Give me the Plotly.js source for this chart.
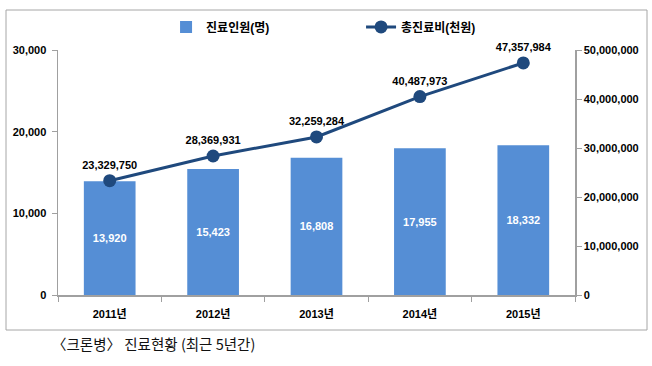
<!DOCTYPE html>
<html>
<head>
<meta charset="utf-8">
<script src="https://cdn.plot.ly/plotly-3.0.1.min.js"></script>
<style>
html,body{margin:0;padding:0;background:#fff;}
#chart{width:652px;height:366px;}
</style>
</head>
<body>
<div id="chart"></div>
<script>
const years = ['2011년', '2012년', '2013년', '2014년', '2015년'];
const patients = [13920, 15423, 16808, 17955, 18332];
const totalCost = [23329750, 28369931, 32259284, 40487973, 47357984];
const barName = '진료인원(명)';
const lineName = '총진료비(천원)';
const caption = '〈크론병〉 진료현황 (최근 5년간)';

const FONT = 'Liberation Sans, Arial, Noto Sans CJK KR, sans-serif';
const fmt = v => v.toLocaleString('en-US');

const traces = [
  {
    type: 'bar',
    name: barName,
    x: years,
    y: patients,
    width: 0.5,
    marker: {color: '#558ED5'},
    text: patients.map(fmt),
    textposition: 'inside',
    insidetextanchor: 'middle',
    textangle: 0,
    textfont: {family: FONT, size: 11, color: '#ffffff', weight: 'bold'},
    hoverinfo: 'x+y',
    yaxis: 'y'
  },
  {
    type: 'scatter',
    mode: 'lines+markers+text',
    name: lineName,
    x: years,
    y: totalCost,
    yaxis: 'y2',
    line: {color: '#1F497D', width: 3},
    marker: {color: '#1F497D', size: 13},
    text: totalCost.map(fmt),
    textposition: 'top center',
    textfont: {family: FONT, size: 11, color: '#000000', weight: 'bold'},
    cliponaxis: false
  }
];

const layout = {
  width: 652,
  height: 366,
  margin: {l: 58, r: 77, t: 50, b: 71},
  paper_bgcolor: '#ffffff',
  plot_bgcolor: '#ffffff',
  font: {family: FONT, size: 11, color: '#000'},
  showlegend: true,
  legend: {
    orientation: 'h',
    x: 0.209, xanchor: 'left',
    y: 1.094, yanchor: 'middle',
    entrywidth: 150,
    entrywidthmode: 'pixels',
    font: {family: FONT, size: 12, color: '#000', weight: 'bold'},
    bgcolor: 'rgba(0,0,0,0)'
  },
  xaxis: {
    type: 'category',
    showgrid: false,
    showline: true,
    linecolor: '#A0A0A0',
    linewidth: 1.5,
    ticks: 'outside',
    tickson: 'boundaries',
    ticklen: 5,
    tickcolor: '#A0A0A0',
    ticklabelstandoff: 8,
    tickfont: {family: FONT, size: 11, color: '#000', weight: 'bold'},
    zeroline: false
  },
  yaxis: {
    range: [0, 30000],
    tickvals: [0, 10000, 20000, 30000],
    tickformat: ',d',
    showgrid: false,
    zeroline: false,
    showline: true,
    linecolor: '#A0A0A0',
    linewidth: 1.5,
    ticks: 'outside',
    ticklen: 5,
    tickcolor: '#A0A0A0',
    ticklabelstandoff: 3,
    tickfont: {family: FONT, size: 11, color: '#000', weight: 'bold'}
  },
  yaxis2: {
    overlaying: 'y',
    side: 'right',
    range: [0, 50000000],
    tickvals: [0, 10000000, 20000000, 30000000, 40000000, 50000000],
    tickformat: ',d',
    showgrid: false,
    zeroline: false,
    showline: true,
    linecolor: '#A0A0A0',
    linewidth: 1.5,
    ticks: 'outside',
    ticklen: 5,
    tickcolor: '#A0A0A0',
    tickfont: {family: FONT, size: 11, color: '#000', weight: 'bold'}
  },
  shapes: [
    {
      type: 'rect', xref: 'paper', yref: 'paper',
      x0: (6 - 58) / 517, x1: (647 - 58) / 517,
      y0: (295 - 330) / 245, y1: (295 - 10) / 245,
      line: {color: '#A6A6A6', width: 1},
      fillcolor: 'rgba(0,0,0,0)',
      layer: 'below'
    }
  ],
  annotations: [
    {
      text: caption,
      xref: 'paper', yref: 'paper',
      x: (50 - 58) / 517, xanchor: 'left',
      y: (295 - 343) / 245, yanchor: 'middle',
      showarrow: false,
      font: {family: 'Noto Sans CJK KR, sans-serif', size: 14.5, color: '#111'}
    }
  ]
};

Plotly.newPlot('chart', traces, layout, {displayModeBar: false, staticPlot: true});
</script>
</body>
</html>
